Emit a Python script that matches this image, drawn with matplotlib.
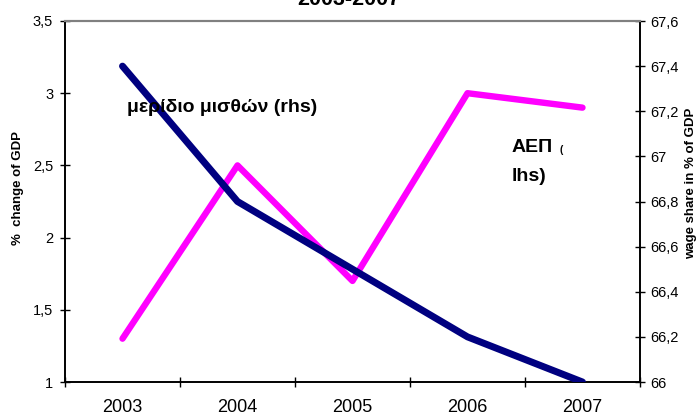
import matplotlib
matplotlib.use("Agg")
import matplotlib.pyplot as plt
from matplotlib.ticker import FuncFormatter, MultipleLocator, FixedLocator

plt.rcParams['font.family'] = ['Liberation Sans', 'DejaVu Sans']

years = ['2003', '2004', '2005', '2006', '2007']
gdp_change = [1.3, 2.5, 1.7, 3.0, 2.9]          # lhs, % change of GDP
wage_share = [67.4, 66.8, 66.5, 66.2, 66.0]     # rhs, wage share in % of GDP

W, H = 698, 416
fig = plt.figure(figsize=(W / 100, H / 100), dpi=100)
ax = fig.add_axes([65 / W, (H - 382) / H, 575 / W, 361 / H])
ax2 = ax.twinx()

x = list(range(len(years)))
ax.plot(x, gdp_change, color='#FF00FF', lw=4.6, solid_capstyle='round',
        solid_joinstyle='round', zorder=3)
ax2.plot(x, wage_share, color='#000080', lw=5.0, solid_capstyle='round',
         solid_joinstyle='round', zorder=3)

ax.set_xlim(-0.5, len(years) - 0.5)
ax.set_ylim(1, 3.5)
ax2.set_ylim(66, 67.6)

fmt = FuncFormatter(lambda v, p: f"{v:g}".replace('.', ','))
ax.yaxis.set_major_locator(MultipleLocator(0.5))
ax.yaxis.set_major_formatter(fmt)
ax2.yaxis.set_major_locator(MultipleLocator(0.2))
ax2.yaxis.set_major_formatter(fmt)

ax.set_xticks(x)
ax.set_xticklabels(years, fontsize=13)
ax.xaxis.set_minor_locator(FixedLocator([i - 0.5 for i in range(len(years) + 1)]))
ax.tick_params(axis='x', which='major', length=0, pad=12)
ax.tick_params(axis='x', which='minor', direction='inout', length=7, width=1, color='black')
ax.tick_params(axis='y', direction='inout', length=7, width=1, labelsize=10.5, pad=5)
ax2.tick_params(axis='y', direction='inout', length=7, width=1, labelsize=10.5, pad=4)

for a in (ax, ax2):
    a.spines['top'].set_color('#808080')
    a.spines['top'].set_linewidth(1.5)
    for s in ('left', 'right', 'bottom'):
        a.spines[s].set_color('black')
        a.spines[s].set_linewidth(1.2)
ax.patch.set_alpha(0)

fig.text(18 / W, 1 - 188 / H, '%  change of GDP', rotation=90, fontsize=9.5,
         fontweight='bold', ha='center', va='center')
fig.text(691 / W, 1 - 183 / H, 'wage share in % of GDP', rotation=90, fontsize=9.5,
         fontweight='bold', ha='center', va='center')

fig.text(127 / W, 1 - 107 / H, 'μερίδιο μισθών (rhs)', fontsize=14,
         fontweight='bold', ha='left', va='center')
fig.text(512 / W, 1 - 147 / H, 'ΑΕΠ', fontsize=14, fontweight='bold',
         ha='left', va='center')
fig.text(559 / W, 1 - 150 / H, '(', fontsize=7, fontweight='bold',
         ha='left', va='center')
fig.text(512 / W, 1 - 176 / H, 'lhs)', fontsize=14, fontweight='bold',
         ha='left', va='center')

fig.text(349 / W, 1 - 5 / H, '2003-2007', fontsize=15.5, fontweight='bold',
         ha='center', va='baseline')

fig.savefig('out.png', dpi=100)
